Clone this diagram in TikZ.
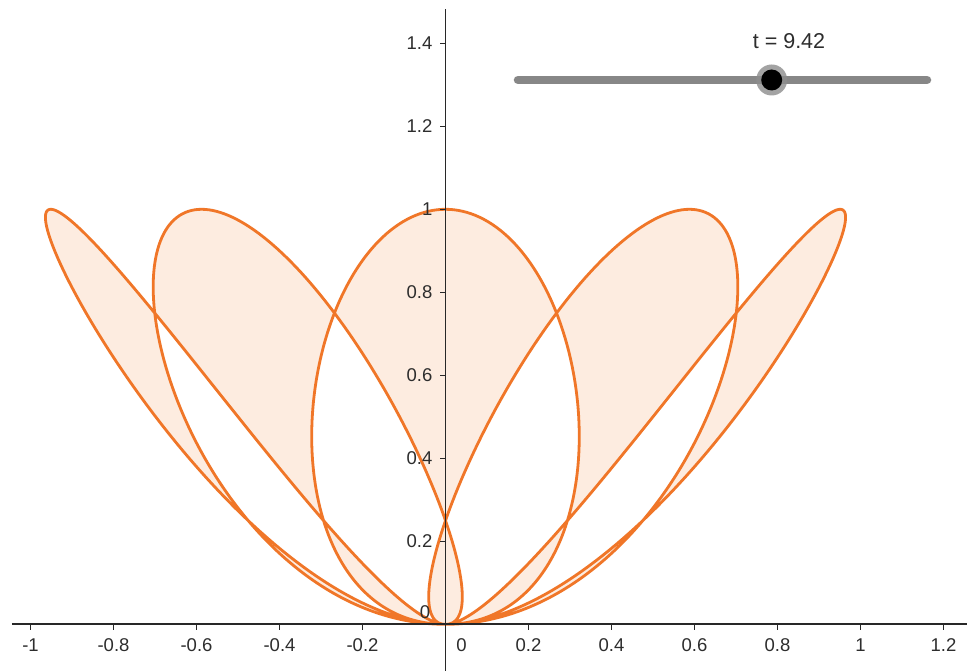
\documentclass[tikz,border=0pt]{standalone}
\usepackage{fontspec}
\setmainfont{Liberation Sans}
\definecolor{curveor}{RGB}{240,118,40}
\definecolor{curvefill}{RGB}{253,236,224}
\definecolor{axisc}{RGB}{40,40,40}
\definecolor{labc}{RGB}{45,45,45}
\definecolor{slidec}{RGB}{135,135,135}
\tikzset{
  axisline/.style={draw=axisc, line width=1.9pt},
  tickmark/.style={draw=axisc, line width=1.3pt},
  ticklab/.style={text=labc, font=\fontsize{18.5}{18.5}\selectfont, inner sep=0pt},
  curvepath/.style={draw=curveor, line width=2.8pt, fill=curvefill, even odd rule, line join=round},
}
\begin{document}
\begin{tikzpicture}[x=1pt,y=1pt]
\useasboundingbox[fill=white] (-445.5,-46.7) rectangle (521.5,624.3);
% curve
\begin{scope}[x=415pt,y=415pt]
\path[curvepath] plot[domain=0:900, samples=1801, smooth] ({-cos(0.6*\x)*sin(\x)}, {sin(\x)*sin(\x)}) -- cycle;
\end{scope}
% axes
\coordinate (xa) at (-433.5,0);
\coordinate (xb) at (521.5,0);
\coordinate (ya) at (0,-46.7);
\coordinate (yb) at (0,615.3);
\draw[axisline] (xa) -- (xb);
\draw[axisline] (ya) -- (yb);
% x ticks
\foreach \k/\lab in {-5/-1,-4/-0.8,-3/-0.6,-2/-0.4,-1/-0.2,1/0.2,2/0.4,3/0.6,4/0.8,5/1,6/1.2}{
  \coordinate (xt\k) at (\k*83,0);
  \draw[tickmark] (xt\k) -- ++(0,-5.5);
  \node[ticklab] (xl\k) at (\k*83,-21) {\lab};
}
\node[ticklab] (xl0) at (16,-21) {0};
% y ticks
\foreach \k/\lab in {1/0.2,2/0.4,3/0.6,4/0.8,5/1,6/1.2,7/1.4}{
  \coordinate (yt\k) at (0,\k*83);
  \draw[tickmark] (yt\k) -- ++(-5.5,0);
  \node[ticklab, anchor=east] (yl\k) at (-13,\k*83) {\lab};
}
\node[ticklab] (yl0) at (-20.5,12.5) {0};
% slider
\coordinate (sa) at (72.5,544.3);
\coordinate (sb) at (481.5,544.3);
\draw[slidec, line width=8.5pt, line cap=round] (sa) -- (sb);
\node[circle, fill=black!45, opacity=0.8, minimum size=31pt, inner sep=0pt] (halo) at (326.2,544.3) {};
\node[circle, fill=black, minimum size=21pt, inner sep=0pt] (knob) at (326.2,544.3) {};
\node[text=labc, font=\fontsize{21.5}{21.5}\selectfont, inner sep=0pt] (tlab) at (343.5,583.5) {t = 9.42};
\end{tikzpicture}
\end{document}
